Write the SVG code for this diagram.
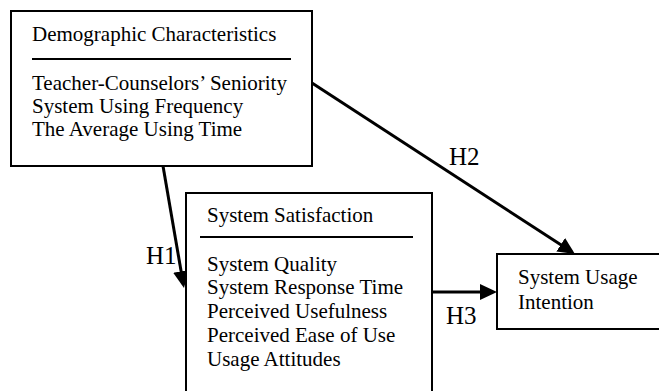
<svg xmlns="http://www.w3.org/2000/svg" width="659" height="391" viewBox="0 0 659 391">
  <style>
    .box { fill: #ffffff; stroke: #000000; stroke-width: 2; }
    .rule { stroke: #000000; stroke-width: 2; }
    .txt { font-family: "Liberation Serif", "Times New Roman", serif; font-size: 21px; fill: #000000; }
    .hyp { font-family: "Liberation Serif", "Times New Roman", serif; font-size: 25px; fill: #000000; }
    .conn { stroke: #000000; stroke-width: 3; fill: none; marker-end: url(#arrow); }
  </style>
  <defs>
    <marker id="arrow" viewBox="0 0 17 16" refX="13" refY="8" markerWidth="17" markerHeight="16" markerUnits="userSpaceOnUse" orient="auto">
      <path d="M0,0 L17,8 L0,16 z" fill="#000000"/>
    </marker>
  </defs>

  <rect width="659" height="391" fill="#ffffff"/>

  <!-- connectors -->
  <g id="connectors">
    <line class="conn" x1="163" y1="166" x2="183.3" y2="284.1"/>
    <line class="conn" x1="312" y1="83" x2="571.6" y2="251.8"/>
    <line class="conn" x1="432" y1="292" x2="493" y2="292"/>
    <text class="hyp" x="146" y="264">H1</text>
    <text class="hyp" x="449" y="165">H2</text>
    <text class="hyp" x="446" y="324">H3</text>
  </g>

  <!-- demographic characteristics -->
  <g id="demographics">
    <rect class="box" x="11" y="11" width="301" height="155"/>
    <text class="txt" x="32" y="41">Demographic Characteristics</text>
    <line class="rule" x1="32" y1="59" x2="291" y2="59"/>
    <text class="txt" x="32" y="90">Teacher-Counselors’ Seniority</text>
    <text class="txt" x="32" y="113">System Using Frequency</text>
    <text class="txt" x="32" y="136">The Average Using Time</text>
  </g>

  <!-- system satisfaction -->
  <g id="satisfaction">
    <rect class="box" x="186" y="193" width="246" height="212"/>
    <text class="txt" x="207" y="222">System Satisfaction</text>
    <line class="rule" x1="200" y1="237" x2="413" y2="237"/>
    <text class="txt" x="207" y="271">System Quality</text>
    <text class="txt" x="207" y="294">System Response Time</text>
    <text class="txt" x="207" y="318">Perceived Usefulness</text>
    <text class="txt" x="207" y="342">Perceived Ease of Use</text>
    <text class="txt" x="207" y="366">Usage Attitudes</text>
  </g>

  <!-- system usage intention -->
  <g id="intention">
    <rect class="box" x="497" y="254" width="180" height="75"/>
    <text class="txt" x="518" y="284">System Usage</text>
    <text class="txt" x="518" y="309">Intention</text>
  </g>
</svg>
